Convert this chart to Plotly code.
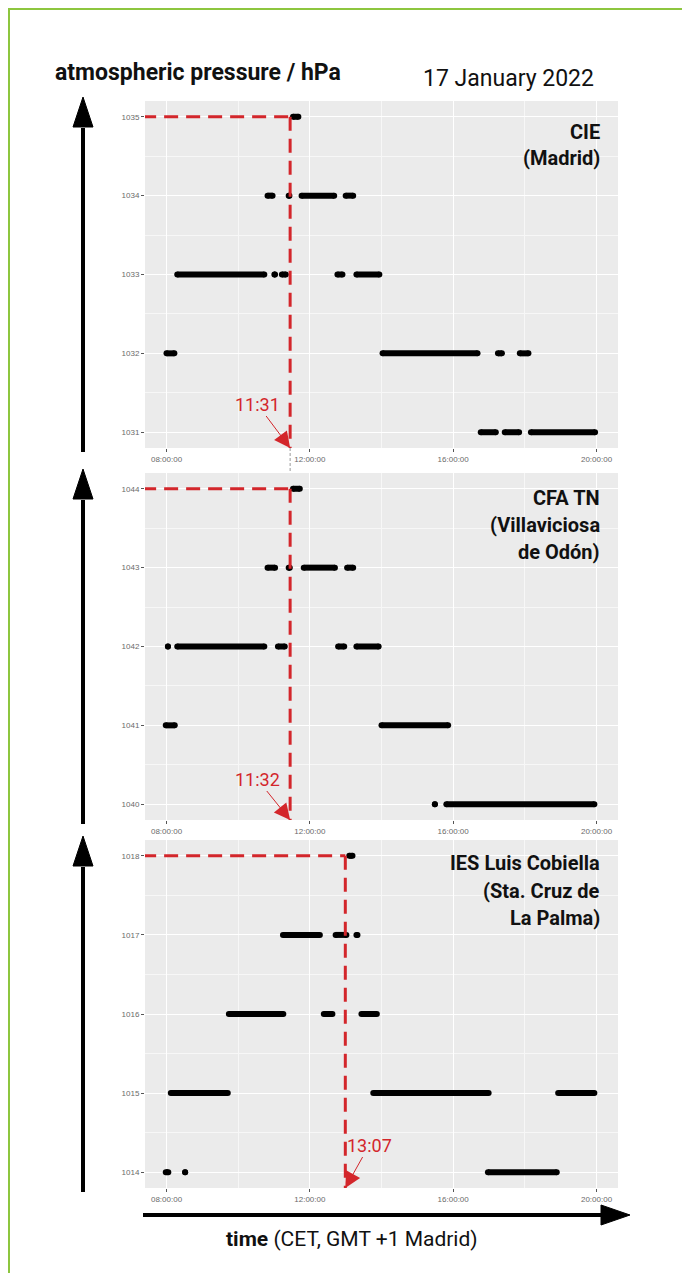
import plotly.graph_objects as go

# page has an 8px body margin; figure is sized so it fits in the 690x1281 window
OFF = 8
W, H = 690 - 2 * OFF, 1281 - 2 * OFF

# ---------------- data (hours of day, hPa) ----------------
stations = ["CIE", "CFA TN", "IES Luis Cobiella"]
station_labels = [
    ["CIE", "(Madrid)"],
    ["CFA TN", "(Villaviciosa", "de Odón)"],
    ["IES Luis Cobiella", "(Sta. Cruz de", "La Palma)"],
]

cie_levels = [1035, 1034, 1033, 1032, 1031]
cie_segments = [
    [[11.53, 11.68]],
    [[10.82, 10.96], [11.41, 11.43], [11.77, 12.68], [13.00, 13.21]],
    [[8.30, 10.73], [11.01, 11.03], [11.22, 11.33], [12.77, 12.91], [13.30, 13.94]],
    [[8.00, 8.22], [14.03, 16.68], [17.25, 17.36], [17.86, 18.10]],
    [[16.77, 17.19], [17.44, 17.84], [18.17, 19.96]],
]

cfa_levels = [1044, 1043, 1042, 1041, 1040]
cfa_segments = [
    [[11.53, 11.72]],
    [[10.82, 11.03], [11.41, 11.44], [11.83, 12.70], [13.04, 13.21]],
    [[8.04, 8.04], [8.30, 10.73], [11.11, 11.30], [12.79, 12.96], [13.30, 13.92]],
    [[7.98, 8.23], [14.00, 15.86]],
    [[15.49, 15.49], [15.81, 19.94]],
]

ies_levels = [1018, 1017, 1016, 1015, 1014]
ies_segments = [
    [[13.10, 13.19]],
    [[11.25, 12.28], [12.72, 13.02], [13.30, 13.33]],
    [[9.74, 11.26], [12.39, 12.63], [13.44, 13.87]],
    [[8.12, 9.71], [13.77, 16.99], [18.93, 19.94]],
    [[7.98, 8.05], [8.52, 8.52], [16.97, 18.89]],
]

peak_times = [11.45, 11.45, 12.99]
peak_labels = ["11:31", "11:32", "13:07"]
peak_label_offsets = [(-33, -44), (-33, -41), (24, -43)]

x_tickvals = [8, 12, 16, 20]
x_ticktext = ["08:00:00", "12:00:00", "16:00:00", "20:00:00"]
x_minor = [10, 14, 18]
x_range = [7.4, 20.6]

all_levels = [cie_levels, cfa_levels, ies_levels]
all_segments = [cie_segments, cfa_segments, ies_segments]

# ---------------- layout geometry (window pixels) ----------------
panel_x = (145, 618)
panel_y = [(101, 448), (473, 820), (840, 1188)]
label_lines_y = [[132, 158], [498, 525, 552], [863, 891, 918]]


def px(x):
    return (x - OFF) / W


def py(y):
    return 1 - (y - OFF) / H


RED = "#D3262B"
FONT = "Roboto"

fig = go.Figure()
layout = dict(
    width=W, height=H, margin=dict(l=0, r=0, t=0, b=0),
    paper_bgcolor="white", plot_bgcolor="#EBEBEB", showlegend=False,
)

shapes = []
annotations = []

for i in range(3):
    levels = all_levels[i]
    segs = all_segments[i]
    xs, ys = [], []
    for lvl, seglist in zip(levels, segs):
        for s, e in seglist:
            xs += [s, e, None]
            ys += [lvl, lvl, None]
    sfx = "" if i == 0 else str(i + 1)
    fig.add_trace(go.Scatter(
        x=xs, y=ys, mode="lines+markers",
        line=dict(color="black", width=6),
        marker=dict(color="black", size=6),
        xaxis="x" + sfx, yaxis="y" + sfx, hoverinfo="skip",
        cliponaxis=False,
    ))
    lo, hi = min(levels), max(levels)
    pad = (hi - lo) * 0.05
    yr = [lo - pad, hi + pad]
    y0p, y1p = panel_y[i]
    layout["xaxis" + sfx] = dict(
        domain=[px(panel_x[0]), px(panel_x[1])], range=x_range,
        anchor="y" + sfx, tickvals=x_tickvals, ticktext=x_ticktext,
        showgrid=True, gridcolor="white", gridwidth=1.1, zeroline=False,
        ticks="outside", ticklen=3, tickwidth=1, tickcolor="#555",
        tickfont=dict(family="Liberation Sans", size=8, color="#6a6a6a"),
        minor=dict(tickvals=x_minor, showgrid=True, gridcolor="#F7F7F7", gridwidth=0.6, ticks=""),
        showline=False, fixedrange=True,
    )
    layout["yaxis" + sfx] = dict(
        domain=[py(y1p), py(y0p)], range=yr, anchor="x" + sfx,
        tickvals=levels, ticktext=[str(v) for v in levels],
        showgrid=True, gridcolor="white", gridwidth=1.1, zeroline=False,
        ticks="outside", ticklen=3, tickwidth=1, tickcolor="#555",
        tickfont=dict(family="Liberation Sans", size=8, color="#6a6a6a"),
        minor=dict(tickvals=[v + 0.5 for v in levels[1:]], showgrid=True,
                   gridcolor="#F7F7F7", gridwidth=0.6, ticks=""),
        showline=False, fixedrange=True,
    )
    xr = "x" + sfx
    yrf = "y" + sfx
    t = peak_times[i]
    shapes.append(dict(type="line", xref=xr, yref=yrf, x0=x_range[0] - 0.08, x1=t,
                       y0=hi, y1=hi, line=dict(color=RED, width=3, dash="14px,8px"), layer="above"))
    shapes.append(dict(type="line", xref=xr, yref=yrf, x0=t, x1=t,
                       y0=hi, y1=yr[0], line=dict(color=RED, width=3, dash="14px,8px"), layer="above"))
    ax, ay = peak_label_offsets[i]
    annotations.append(dict(
        x=t, y=yr[0], xref=xr, yref=yrf, text=peak_labels[i],
        showarrow=True, ax=ax, ay=ay, arrowhead=2, arrowsize=3.2, arrowwidth=1,
        arrowcolor=RED, font=dict(family=FONT, size=18, color=RED), standoff=0,
    ))
    for line_txt, ly in zip(station_labels[i], label_lines_y[i]):
        annotations.append(dict(
            x=px(602), y=py(ly), xref="paper", yref="paper", xanchor="right",
            yanchor="middle", showarrow=False, text="<b>" + line_txt + "</b>",
            font=dict(family=FONT, size=20, color="#111"),
        ))
    tip = y0p - 4
    base = y0p + 26
    bottom = y1p + 4
    shapes.append(dict(type="line", xref="paper", yref="paper", x0=px(83), x1=px(83),
                       y0=py(bottom), y1=py(base + 1), line=dict(color="black", width=4)))
    shapes.append(dict(type="path", xref="paper", yref="paper",
                       path=f"M {px(73)},{py(base)} L {px(93)},{py(base)} L {px(83)},{py(tip)} Z",
                       fillcolor="black", line=dict(color="black", width=1)))

shapes.append(dict(type="line", xref="x", yref="paper", x0=peak_times[0], x1=peak_times[0],
                   y0=py(448), y1=py(473), line=dict(color="#9a9a9a", width=1, dash="3px,2px")))

# bottom time arrow
shapes.append(dict(type="line", xref="paper", yref="paper", x0=px(143), x1=px(603),
                   y0=py(1215), y1=py(1215), line=dict(color="black", width=4)))
shapes.append(dict(type="path", xref="paper", yref="paper",
                   path=f"M {px(601)},{py(1205)} L {px(601)},{py(1225)} L {px(630)},{py(1215)} Z",
                   fillcolor="black", line=dict(color="black", width=1)))

# green frame (left + top edges visible)
shapes.append(dict(type="rect", xref="paper", yref="paper", x0=px(9), x1=px(720),
                   y0=py(1320), y1=py(9), line=dict(color="#8DC63F", width=2), layer="below"))

annotations.append(dict(x=px(53), y=py(72), xref="paper", yref="paper", xanchor="left",
                        yanchor="middle", showarrow=False,
                        text="<b>atmospheric pressure / hPa</b>",
                        font=dict(family=FONT, size=23, color="#111")))
annotations.append(dict(x=px(596), y=py(78), xref="paper", yref="paper", xanchor="right",
                        yanchor="middle", showarrow=False, text="17 January 2022",
                        font=dict(family=FONT, size=23, color="#111")))
annotations.append(dict(x=px(352), y=py(1239), xref="paper", yref="paper", xanchor="center",
                        yanchor="middle", showarrow=False,
                        text="<b>time</b> (CET, GMT +1 Madrid)",
                        font=dict(family=FONT, size=21, color="#111")))

layout["shapes"] = shapes
layout["annotations"] = annotations
fig.update_layout(**layout)
fig.write_html("out.html")
